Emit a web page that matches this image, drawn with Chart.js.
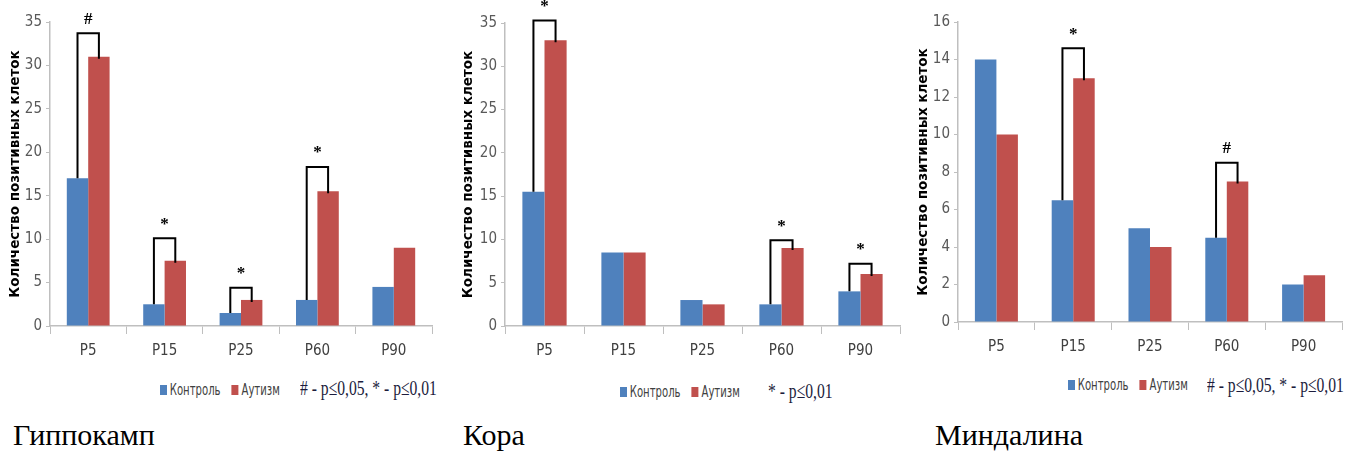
<!DOCTYPE html>
<html>
<head>
<meta charset="utf-8">
<script src="https://cdn.jsdelivr.net/npm/chart.js@4"></script>
<style>
  body { margin: 0; background: #fff; width: 1357px; height: 453px; overflow: hidden; position: relative; }
  .panel { position: absolute; top: 0; }
  .legend { position: absolute; font-family: 'DejaVu Sans Condensed', sans-serif; font-size: 16px; color: #404040; white-space: nowrap; transform: scaleX(0.7); transform-origin: left center; }
  .legend i { display: inline-block; width: 10px; height: 10px; margin-right: 4px; vertical-align: 0px; }
  .legend b { display: inline-block; width: 16px; }
  .note { position: absolute; font-family: 'Liberation Serif', serif; font-size: 22px; color: #1c1c3c; white-space: nowrap; transform: scaleX(0.71); transform-origin: left center; }
  .title { position: absolute; font-family: 'Liberation Serif', serif; font-size: 30px; color: #000; white-space: nowrap; }
</style>
</head>
<body>

<div class="panel" style="left:0"><canvas id="hippoChart" width="450" height="360"></canvas></div>
<div class="panel" style="left:450px"><canvas id="cortexChart" width="460" height="360"></canvas></div>
<div class="panel" style="left:905px"><canvas id="amygChart" width="452" height="360"></canvas></div>

<div class="legend" style="left:160px; top:380px"><i style="background:#4F81BD"></i>Контроль<b></b><i style="background:#C0504D"></i>Аутизм</div>
<div class="note" style="left:300px; top:375px"># - p≤0,05, * - p≤0,01</div>
<div class="legend" style="left:620px; top:382px"><i style="background:#4F81BD"></i>Контроль<b></b><i style="background:#C0504D"></i>Аутизм</div>
<div class="note" style="left:768px; top:378px">* - p≤0,01</div>
<div class="legend" style="left:1068px; top:375px"><i style="background:#4F81BD"></i>Контроль<b></b><i style="background:#C0504D"></i>Аутизм</div>
<div class="note" style="left:1207px; top:372px"># - p≤0,05, * - p≤0,01</div>

<div class="title" style="left:13px; top:418px">Гиппокамп</div>
<div class="title" style="left:463px; top:418px">Кора</div>
<div class="title" style="left:935px; top:418px">Миндалина</div>

<script>
const ages = ['P5', 'P15', 'P25', 'P60', 'P90'];

// Гиппокамп
const hippoControl = [17, 2.5, 1.5, 3, 4.5];
const hippoAutism = [31, 7.5, 3, 15.5, 9];
const hippoSigIndex = [0, 1, 2, 3];
const hippoSigTop = [33.7, 10.1, 4.4, 18.3];
const hippoSigMark = ['#', '*', '*', '*'];

// Кора
const cortexControl = [15.5, 8.5, 3, 2.5, 4];
const cortexAutism = [33, 8.5, 2.5, 9, 6];
const cortexSigIndex = [0, 3, 4];
const cortexSigTop = [35.3, 9.9, 7.2];
const cortexSigMark = ['*', '*', '*'];

// Миндалина
const amygControl = [14, 6.5, 5, 4.5, 2];
const amygAutism = [10, 13, 4, 7.5, 2.5];
const amygSigIndex = [1, 3];
const amygSigTop = [14.6, 8.5];
const amygSigMark = ['*', '#'];

const AXIS_COLOR = '#BFBFBF';
const TICK_FONT = "'Liberation Sans Narrow', 'DejaVu Sans Condensed', sans-serif";

// brackets with significance marks between the two bars of a group
const bracketPlugin = {
    id: 'bracketPlugin',
    afterDatasetsDraw(chart, args, opts) {
        const ctx = chart.ctx;
        const y = chart.scales.y;
        const m0 = chart.getDatasetMeta(0);
        const m1 = chart.getDatasetMeta(1);
        opts.index.forEach((idx, k) => {
            const b0 = m0.data[idx];
            const b1 = m1.data[idx];
            const yTop = y.getPixelForValue(opts.top[k]);
            ctx.save();
            ctx.strokeStyle = '#000';
            ctx.lineWidth = 2;
            ctx.beginPath();
            ctx.moveTo(b0.x, b0.y);
            ctx.lineTo(b0.x, yTop);
            ctx.lineTo(b1.x, yTop);
            ctx.lineTo(b1.x, b1.y + 2);
            ctx.stroke();
            ctx.fillStyle = '#000';
            ctx.font = "bold 17px 'Liberation Serif', serif";
            ctx.textAlign = 'center';
            ctx.textBaseline = 'middle';
            ctx.fillText(opts.mark[k], (b0.x + b1.x) / 2, yTop - 14);
            ctx.restore();
        });
    }
};

function makeChart(id, control, autism, yMax, step, sig, pad, axisW, titlePad) {
    return new Chart(document.getElementById(id), {
        type: 'bar',
        data: {
            labels: ages,
            datasets: [
                { label: 'Контроль', data: control, backgroundColor: '#4F81BD', categoryPercentage: 0.56, barPercentage: 1 },
                { label: 'Аутизм', data: autism, backgroundColor: '#C0504D', categoryPercentage: 0.56, barPercentage: 1 }
            ]
        },
        options: {
            responsive: false,
            animation: false,
            layout: { padding: pad },
            plugins: {
                legend: { display: false },
                tooltip: { enabled: false },
                bracketPlugin: sig
            },
            scales: {
                x: {
                    grid: { drawOnChartArea: false, color: AXIS_COLOR, tickLength: 8 },
                    border: { color: AXIS_COLOR, width: 1.5 },
                    ticks: { color: '#404040', font: { family: TICK_FONT, size: 15 }, padding: 8 },
                    afterFit(s) { s.height = 34; }
                },
                y: {
                    min: 0,
                    max: yMax,
                    ticks: { stepSize: step, color: '#595959', font: { family: TICK_FONT, size: 15 }, padding: 4 },
                    grid: { drawOnChartArea: false, color: AXIS_COLOR, tickLength: 4 },
                    border: { color: AXIS_COLOR, width: 1.5 },
                    title: {
                        display: true,
                        text: 'Количество позитивных клеток',
                        color: '#000',
                        font: { family: "'DejaVu Sans', Verdana, sans-serif", size: 13.5, weight: 'bold' },
                        padding: { top: titlePad, bottom: 0 }
                    },
                    afterFit(s) { s.width = axisW; }
                }
            }
        },
        plugins: [bracketPlugin]
    });
}

makeChart('hippoChart', hippoControl, hippoAutism, 35, 5,
    { index: hippoSigIndex, top: hippoSigTop, mark: hippoSigMark },
    { top: 22, right: 18, left: 0, bottom: 0 }, 50, 6.9);

makeChart('cortexChart', cortexControl, cortexAutism, 35, 5,
    { index: cortexSigIndex, top: cortexSigTop, mark: cortexSigMark },
    { top: 23, right: 10, left: 0, bottom: 0 }, 55, 9.9);

makeChart('amygChart', amygControl, amygAutism, 16, 2,
    { index: amygSigIndex, top: amygSigTop, mark: amygSigMark },
    { top: 22, right: 15, left: 0, bottom: 4 }, 53, 9.9);
</script>
</body>
</html>
